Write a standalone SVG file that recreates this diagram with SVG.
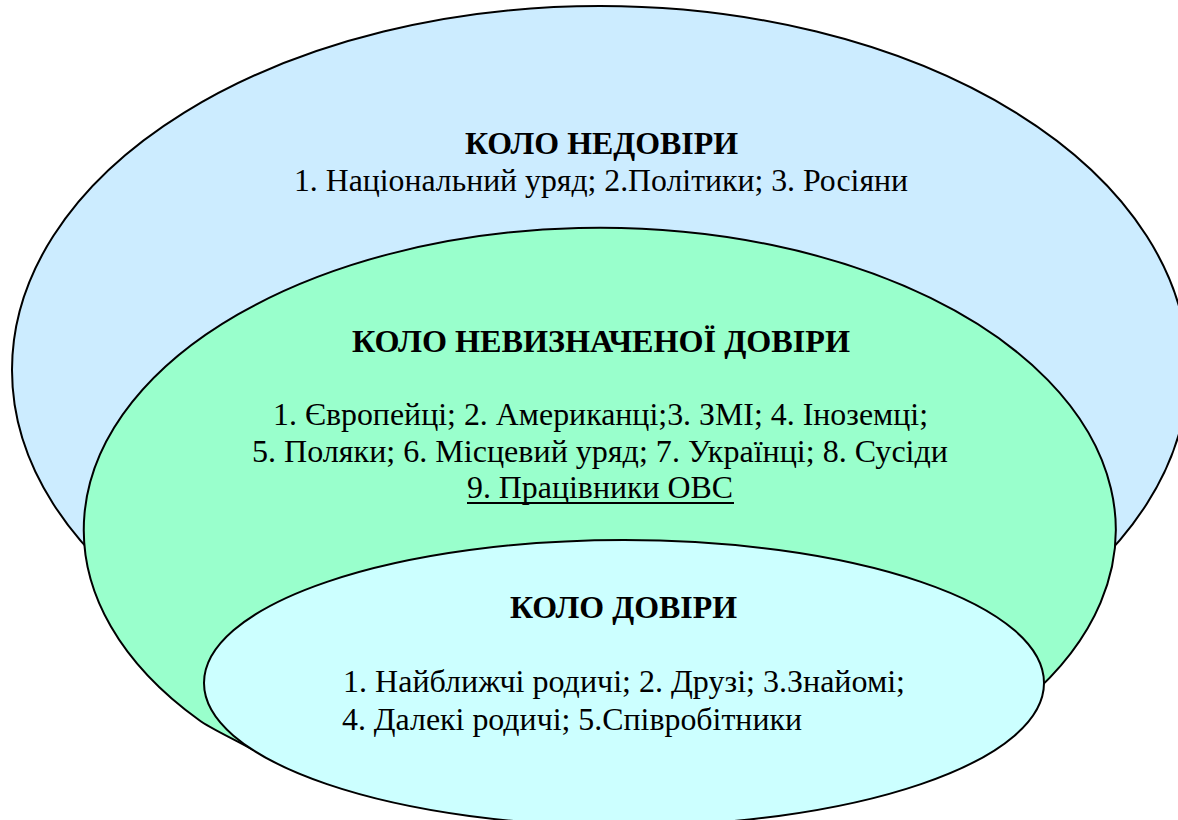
<svg xmlns="http://www.w3.org/2000/svg" width="1178" height="820" viewBox="0 0 1178 820">
  <style>
    .circ { stroke: #000; stroke-width: 2; }
    .t { font-family: "Liberation Serif", "Times New Roman", "DejaVu Serif", serif; fill: #000; font-size: 31px; }
    .b { font-weight: bold; }
  </style>
  <rect x="0" y="0" width="1178" height="820" fill="#fff"/>
  <g id="outer">
    <ellipse class="circ" cx="600" cy="370" rx="588" ry="364" fill="#CCECFF"/>
    <text class="t b" x="465" y="154" textLength="273" lengthAdjust="spacingAndGlyphs">КОЛО НЕДОВІРИ</text>
    <text class="t" x="294" y="191" textLength="614" lengthAdjust="spacingAndGlyphs">1. Національний уряд; 2.Політики; 3. Росіяни</text>
  </g>
  <g id="middle">
    <path class="circ" fill="#99FFCC" d="M 253,750 C 240,742 211,729 199,720 A 516 302 0 1 1 1026 700 L 640 720 Z"/>
    <text class="t b" x="352" y="352" textLength="498" lengthAdjust="spacingAndGlyphs">КОЛО НЕВИЗНАЧЕНОЇ ДОВІРИ</text>
    <text class="t" x="273" y="425" textLength="655" lengthAdjust="spacingAndGlyphs">1. Європейці; 2. Американці;3. ЗМІ; 4. Іноземці;</text>
    <text class="t" x="252" y="462" textLength="696" lengthAdjust="spacingAndGlyphs">5. Поляки; 6. Місцевий уряд; 7. Українці; 8. Сусіди</text>
    <text class="t" x="467" y="498" textLength="266" lengthAdjust="spacingAndGlyphs">9. Працівники ОВС</text>
    <line x1="467" y1="503" x2="734" y2="503" stroke="#000" stroke-width="2"/>
  </g>
  <g id="inner">
    <ellipse class="circ" cx="624" cy="683" rx="420" ry="143" fill="#CCFFFF"/>
    <text class="t b" x="510" y="618" textLength="227" lengthAdjust="spacingAndGlyphs">КОЛО ДОВІРИ</text>
    <text class="t" x="343" y="692" textLength="562" lengthAdjust="spacingAndGlyphs">1. Найближчі родичі; 2. Друзі; 3.Знайомі;</text>
    <text class="t" x="342" y="730" textLength="460" lengthAdjust="spacingAndGlyphs">4. Далекі родичі; 5.Співробітники</text>
  </g>
  <g id="connectors"></g>
</svg>
